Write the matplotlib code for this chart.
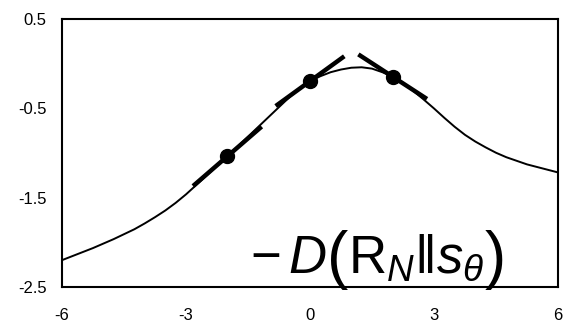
import matplotlib
matplotlib.use('Agg')
import numpy as np
import matplotlib.pyplot as plt

# curve values (quarter steps)
x_vals = [-6, -5.75, -5.5, -5.25, -5, -4.75, -4.5, -4.25, -4, -3.75, -3.5, -3.25,
          -3, -2.75, -2.5, -2.25, -2, -1.75, -1.5, -1.25, -1, -0.75, -0.5, -0.25,
          0, 0.25, 0.5, 0.75, 1, 1.25, 1.5, 1.75, 2, 2.25, 2.5, 2.75,
          3, 3.25, 3.5, 3.75, 4, 4.25, 4.5, 4.75, 5, 5.25, 5.5, 5.75, 6]
y_vals = [-2.20, -2.155, -2.11, -2.065, -2.015, -1.965, -1.91, -1.855, -1.79, -1.72, -1.645, -1.56,
          -1.465, -1.36, -1.255, -1.145, -1.04, -0.93, -0.82, -0.71, -0.60, -0.49, -0.38, -0.285,
          -0.20, -0.145, -0.10, -0.07, -0.05, -0.045, -0.06, -0.10, -0.15, -0.225, -0.31, -0.405,
          -0.505, -0.61, -0.71, -0.80, -0.875, -0.94, -1.00, -1.05, -1.09, -1.13, -1.16, -1.19, -1.22]

# marked points and slopes of their tangent segments
pt_x = [-2, 0, 2]
pt_y = [-1.04, -0.20, -0.15]
pt_slope = [0.40, 0.335, -0.30]
half_len = 0.83

x_ticks = [-6, -3, 0, 3, 6]
y_ticks = [-2.5, -1.5, -0.5, 0.5]

plt.rcParams['font.family'] = ['Liberation Sans', 'DejaVu Sans']
plt.rcParams['mathtext.fontset'] = 'custom'
plt.rcParams['mathtext.rm'] = 'Liberation Sans'
plt.rcParams['mathtext.it'] = 'Liberation Sans:italic'

W, H = 566, 326
fig = plt.figure(figsize=(W / 100, H / 100), dpi=100)
ax = fig.add_axes([62 / W, 1 - 287 / H, 496 / W, 268.5 / H])

ax.plot(x_vals, y_vals, color='black', linewidth=1.4, zorder=2)

for px, py, m in zip(pt_x, pt_y, pt_slope):
    xs = np.array([px - half_len, px + half_len])
    ax.plot(xs, py + m * (xs - px), color='black', linewidth=3.2,
            solid_capstyle='butt', zorder=3)
ax.plot(pt_x, pt_y, 'o', color='black', markersize=10, zorder=4)

ax.set_xlim(-6, 6)
ax.set_ylim(-2.5, 0.5)
ax.set_xticks(x_ticks)
ax.set_yticks(y_ticks)
ax.set_xticklabels([str(t) for t in x_ticks])
ax.set_yticklabels([str(t) for t in y_ticks])
ax.tick_params(length=0, labelsize=12, colors='black')
ax.tick_params(axis='x', pad=15)
ax.tick_params(axis='y', pad=11)
for s in ax.spines.values():
    s.set_linewidth(1.5)
    s.set_color('black')

# label  -D(R_N || s_theta): pieces chained left to right so the parens can be tall
pieces = [(r'$-\,D$', 38, 273), ('(', 46, 277), (r'$\mathrm{R}_N\|s_\theta$', 38, 273), (')', 46, 277)]
x_px = 250
renderer = fig.canvas.get_renderer()
for txt, fs, base in pieces:
    t = fig.text(x_px / W, 1 - base / H, txt, fontsize=fs, ha='left', va='baseline')
    bb = t.get_window_extent(renderer)
    x_px = bb.x1

fig.savefig('out.png', dpi=100)
